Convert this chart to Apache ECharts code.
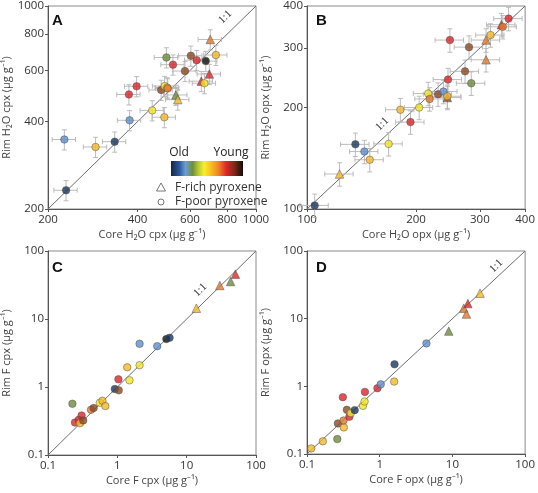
<!DOCTYPE html>
<html><head><meta charset="utf-8">
<script src="https://cdn.jsdelivr.net/npm/echarts@6/dist/echarts.min.js"></script>
<style>html,body{margin:0;padding:0;background:#fff}#c{width:538px;height:493px}</style>
</head><body><div id="c"></div>
<script>
// ---------- DATA ----------
// Panel A: H2O cpx (µg/g)
const aCore  = [230,227,289,335,376,374,397,448,492,480,493,503,505,500,526,538,546,577,604,632,655,697,671,678,733,702];
const aRim   = [232,347,327,341,404,496,529,437,414,514,530,524,520,665,628,494,476,597,674,651,551,583,542,646,678,767];
const aColor = ['navy','lblue','gold','navy','lblue','red','red','yellow','gold','brown','yellow','gold','orange','olive','red','olive','gold','brown','brown','red','red','red','yellow','black','gold','orange'];
const aShape = ['c','c','c','c','c','c','c','c','c','c','c','c','c','c','c','t','t','c','c','c','t','t','c','c','c','t'];
// Panel B: H2O opx (µg/g)
const bCore  = [105,136,144,149,123,168,193,181,204,216,218,230,238,244,244,245,248,273,284,280,312,312,321,344,347,360];
const bRim   = [102.5,155.5,148,140,127,156,181,197,200,220,212,219,223,214,216,242,317,256,236,302,317,277,328,352,347,367];
const bColor = ['navy','navy','lblue','gold','gold','yellow','red','gold','yellow','yellow','orange','brown','lblue','brown','gold','red','red','brown','olive','brown','orange','orange','gold','red','orange','red'];
const bShape = ['c','c','c','c','t','c','c','c','c','c','c','c','c','t','c','c','c','c','c','c','t','t','c','t','c','c'];
// relative analytical uncertainty (%) on core (x) and rim (y), panels A and B
const errPctA = [9, 8];
const errPctB = [9, 8];
// Panel C: F cpx (µg/g)
const cCore  = [0.225,0.245,0.277,0.289,0.305,0.322,0.417,0.455,0.559,0.61,0.672,0.92,1.048,1.036,1.389,1.497,2.094,2.094,3.76,5.09,5.67,13.8,30.1,43,50.5];
const cRim   = [0.567,0.30,0.329,0.294,0.381,0.322,0.462,0.49,0.587,0.628,0.524,0.934,0.893,1.298,1.95,1.255,4.32,2.09,3.99,5.06,5.3,14.4,31.1,35.6,45.7];
const cColor = ['olive','red','red','gold','red','brown','orange','brown','yellow','gold','gold','navy','brown','red','gold','yellow','lblue','yellow','lblue','black','navy','gold','orange','olive','red'];
const cShape = ['c','c','c','c','c','c','c','c','c','c','c','c','c','c','c','c','c','c','c','c','c','t','t','t','t'];
// Panel D: F opx (µg/g)
const dCore  = [0.1145,0.165,0.261,0.266,0.311,0.321,0.318,0.353,0.383,0.4,0.453,0.588,0.619,0.626,0.93,1.032,1.598,1.58,4.39,8.9,14.3,15.6,16.3,24];
const dRim   = [0.121,0.154,0.166,0.283,0.691,0.247,0.313,0.45,0.355,0.402,0.445,0.515,0.597,0.828,0.938,1.07,2.116,1.175,4.31,6.55,14.3,11.7,16.7,23.8];
const dColor = ['gold','gold','olive','brown','red','gold','orange','brown','red','yellow','navy','yellow','yellow','red','red','lblue','navy','gold','lblue','olive','orange','orange','red','gold'];
const dShape = ['c','c','c','c','c','c','c','c','c','c','c','c','c','c','c','c','c','c','c','t','t','t','t','t'];
// Axis ranges and tick labels
const ticksA = [200,400,600,800,1000];
const ticksB = [100,200,300,400];
const ticksF = [0.1,1,10,100];
const legendItems = ['F-rich pyroxene','F-poor pyroxene'];

// ---------- STYLE ----------
const COLORS = {navy:'#1c3760', lblue:'#5e8fcb', olive:'#6f8b3c', yellow:'#f2e52b', gold:'#f5b828', orange:'#e2782c', red:'#da262b', brown:'#8b4a23', black:'#111111'};
const FONT = '"Open Sans", sans-serif';
const L = Math.log10;

const panels = [
  {core:aCore, rim:aRim, col:aColor, shp:aShape, ticks:ticksA, err:errPctA, grid:{left:43,top:5,width:213,height:204},
   xName:'Core H\u2082O cpx (\u00b5g g\u207b\u00b9)', yName:'Rim H\u2082O cpx (\u00b5g g\u207b\u00b9)'},
  {core:bCore, rim:bRim, col:bColor, shp:bShape, ticks:ticksB, err:errPctB, grid:{left:307,top:5,width:221,height:204},
   xName:'Core H\u2082O opx (\u00b5g g\u207b\u00b9)', yName:'Rim H\u2082O opx (\u00b5g g\u207b\u00b9)'},
  {core:cCore, rim:cRim, col:cColor, shp:cShape, ticks:ticksF, err:null, grid:{left:43,top:251,width:213,height:204},
   xName:'Core F cpx (\u00b5g g\u207b\u00b9)', yName:'Rim F cpx (\u00b5g g\u207b\u00b9)'},
  {core:dCore, rim:dRim, col:dColor, shp:dShape, ticks:ticksF, err:null, grid:{left:307,top:251,width:221,height:203},
   xName:'Core F opx (\u00b5g g\u207b\u00b9)', yName:'Rim F opx (\u00b5g g\u207b\u00b9)'}
];

const grids=[], xAxes=[], yAxes=[], series=[];
panels.forEach((p,i)=>{
  grids.push(Object.assign({show:true, borderColor:'#8a8a8a', borderWidth:1, backgroundColor:'transparent'}, p.grid));
  const lo=L(p.ticks[0]), hi=L(p.ticks[p.ticks.length-1]);
  const tv = p.ticks.map(L);
  const fmt = v => { let best=p.ticks[0]; p.ticks.forEach(t=>{ if(Math.abs(L(t)-v)<Math.abs(L(best)-v)) best=t; }); return String(best); };
  const axCommon = {type:'value', gridIndex:i, min:lo, max:hi,
    axisLine:{show:true, onZero:false, lineStyle:{color:'#555', width:1}},
    axisTick:{show:true, inside:false, length:3, customValues:tv, lineStyle:{color:'#555'}},
    axisLabel:{customValues:tv, formatter:fmt, color:'#333', fontSize:11.5, fontFamily:FONT},
    splitLine:{show:false},
    nameLocation:'middle', nameTextStyle:{color:'#444', fontSize:11, fontFamily:FONT}};
  xAxes.push(Object.assign({}, axCommon, {name:p.xName, nameGap:20, axisLabel:Object.assign({}, axCommon.axisLabel, {margin:5})}));
  yAxes.push(Object.assign({}, axCommon, {name:p.yName, nameGap:36, axisLabel:Object.assign({}, axCommon.axisLabel, {margin:4})}));
  // 1:1 line
  series.push({type:'line', xAxisIndex:i, yAxisIndex:i, data:[[lo,lo],[hi,hi]], symbol:'none', silent:true,
    lineStyle:{color:'#6e6e6e', width:1}, z:1, animation:false});
  // error bars
  if(p.err){
    const ex=p.err[0]/100, ey=p.err[1]/100;
    const ed = p.core.map((x,k)=>[L(x), L(p.rim[k]), L(x*(1-ex)), L(x*(1+ex)), L(p.rim[k]*(1-ey)), L(p.rim[k]*(1+ey))]);
    series.push({type:'custom', xAxisIndex:i, yAxisIndex:i, data:ed, z:2, silent:true, animation:false,
      renderItem:(params, api)=>{
        const c=api.coord([api.value(0),api.value(1)]);
        const xl=api.coord([api.value(2),api.value(1)]), xh=api.coord([api.value(3),api.value(1)]);
        const yl=api.coord([api.value(0),api.value(4)]), yh=api.coord([api.value(0),api.value(5)]);
        const st={stroke:'#b4b4b4', lineWidth:0.9};
        const cap=2.5;
        return {type:'group', children:[
          {type:'line', shape:{x1:xl[0],y1:c[1],x2:xh[0],y2:c[1]}, style:st},
          {type:'line', shape:{x1:c[0],y1:yl[1],x2:c[0],y2:yh[1]}, style:st},
          {type:'line', shape:{x1:xl[0],y1:c[1]-cap,x2:xl[0],y2:c[1]+cap}, style:st},
          {type:'line', shape:{x1:xh[0],y1:c[1]-cap,x2:xh[0],y2:c[1]+cap}, style:st},
          {type:'line', shape:{x1:c[0]-cap,y1:yl[1],x2:c[0]+cap,y2:yl[1]}, style:st},
          {type:'line', shape:{x1:c[0]-cap,y1:yh[1],x2:c[0]+cap,y2:yh[1]}, style:st}
        ]};
      }});
  }
  // points
  const pts = p.core.map((x,k)=>({value:[L(x), L(p.rim[k])],
    symbol: p.shp[k]==='t' ? 'triangle' : 'circle',
    symbolSize: p.shp[k]==='t' ? 8.5 : 7.5,
    itemStyle:{color:COLORS[p.col[k]], borderColor:'#4a4a4a', borderWidth:0.6}}));
  series.push({type:'scatter', xAxisIndex:i, yAxisIndex:i, data:pts, z:3, animation:false});
});

const LET = 'bold 15px Arial, "Liberation Sans"';
const ONE = '11px "Liberation Serif", serif';
const graphics = [
  {type:'text', left:52, top:13, style:{text:'A', font:LET, fill:'#111'}},
  {type:'text', left:316, top:13, style:{text:'B', font:LET, fill:'#111'}},
  {type:'text', left:52, top:260, style:{text:'C', font:LET, fill:'#111'}},
  {type:'text', left:316, top:260, style:{text:'D', font:LET, fill:'#111'}},
  // 1:1 labels
  {type:'text', x:229, y:21, rotation:Math.PI/4*0.98, style:{text:'1:1', font:ONE, fill:'#333', align:'center', verticalAlign:'bottom'}},
  {type:'text', x:386, y:128, rotation:Math.PI/4*0.98, style:{text:'1:1', font:ONE, fill:'#333', align:'center', verticalAlign:'bottom'}},
  {type:'text', x:204, y:294, rotation:Math.PI/4*0.98, style:{text:'1:1', font:ONE, fill:'#333', align:'center', verticalAlign:'bottom'}},
  {type:'text', x:500, y:270, rotation:Math.PI/4*0.98, style:{text:'1:1', font:ONE, fill:'#333', align:'center', verticalAlign:'bottom'}},
  // colour bar legend
  {type:'text', x:179, y:153, style:{text:'Old', font:'12px '+FONT, fill:'#222', align:'center', verticalAlign:'middle'}},
  {type:'text', x:231, y:153, style:{text:'Young', font:'12px '+FONT, fill:'#222', align:'center', verticalAlign:'middle'}},
  {type:'rect', shape:{x:171, y:161, width:72, height:15}, style:{fill:new echarts.graphic.LinearGradient(0,0,1,0,[
    {offset:0, color:'#14264a'},{offset:0.12, color:'#2d5aa0'},{offset:0.2, color:'#6a9ed6'},{offset:0.3, color:'#6f8f38'},
    {offset:0.38, color:'#b9c92f'},{offset:0.46, color:'#f6ef2c'},{offset:0.55, color:'#f7c21f'},{offset:0.66, color:'#ec8426'},
    {offset:0.77, color:'#de2529'},{offset:0.88, color:'#7e2a17'},{offset:1, color:'#120c0a'}])}},
  {type:'polygon', shape:{points:[[161,183],[156.5,191],[165.5,191]]}, style:{fill:'none', stroke:'#666', lineWidth:0.9}},
  {type:'circle', shape:{cx:161, cy:202, r:3}, style:{fill:'none', stroke:'#666', lineWidth:0.9}},
  {type:'text', x:175, y:188, style:{text:legendItems[0], font:'12px '+FONT, fill:'#333', verticalAlign:'middle'}},
  {type:'text', x:175, y:202, style:{text:legendItems[1], font:'12px '+FONT, fill:'#333', verticalAlign:'middle'}}
];

const chart = echarts.init(document.getElementById('c'), null, {renderer:'canvas'});
chart.setOption({animation:false, backgroundColor:'#fff', grid:grids, xAxis:xAxes, yAxis:yAxes, series:series, graphic:graphics});
</script></body></html>
